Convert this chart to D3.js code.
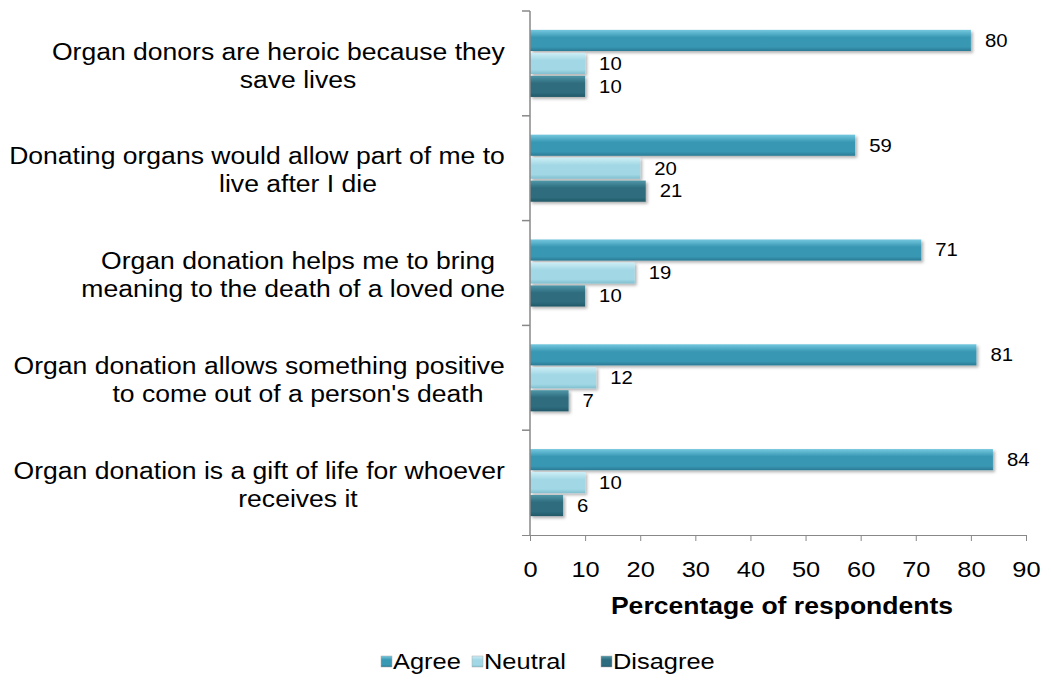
<!DOCTYPE html>
<html><head><meta charset="utf-8">
<script src="https://cdn.jsdelivr.net/npm/d3@7"></script>
<style>body{margin:0;background:#fff}text{font-family:"Liberation Sans",Arial,sans-serif}</style>
</head><body><svg id="c" width="1051" height="688"></svg>
<script>
const categories = [
  ["Organ donors are heroic because they", "save lives"],
  ["Donating organs would allow part of me to", "live after I die"],
  ["Organ donation helps me to bring", "meaning to the death of a loved one"],
  ["Organ donation allows something positive", "to come out of a person's death"],
  ["Organ donation is a gift of life for whoever", "receives it"]
];
const seriesNames = ["Agree", "Neutral", "Disagree"];
const agree    = [80, 59, 71, 81, 84];
const neutral  = [10, 20, 19, 12, 10];
const disagree = [10, 21, 10, 7, 6];
const xTicks = [0,10,20,30,40,50,60,70,80,90];
const axisTitle = "Percentage of respondents";

const series = [agree, neutral, disagree];
const colors = [
  {top:"#74c8de", mid:"#3998b4", bot:"#2a7a94"},
  {top:"#cdeef6", mid:"#a2d8e5", bot:"#80bfcf"},
  {top:"#4f97a8", mid:"#2d6c7e", bot:"#225867"}
];
const SX = 1.13; // slight horizontal text stretch seen in the reference

const svg = d3.select("#c");
const L = 530, T = 11, B = 535, R = 1026;
const x = d3.scaleLinear().domain([0, 90]).range([L, R]);
const y = d3.scaleBand().domain(d3.range(categories.length)).range([T, B]).paddingInner(0.36).paddingOuter(0.18);
const yi = d3.scaleBand().domain(d3.range(3)).range([0, y.bandwidth()]).paddingInner(0.08);
const band = d3.scaleBand().domain(d3.range(categories.length)).range([T, B]);

function place(t, px, py) { t.attr("transform", `translate(${px},${py}) scale(${SX},1)`); return t; }

const defs = svg.append("defs");
colors.forEach((c, i) => {
  const g = defs.append("linearGradient").attr("id", "g" + i).attr("x1", 0).attr("y1", 0).attr("x2", 0).attr("y2", 1);
  g.append("stop").attr("offset", "0%").attr("stop-color", c.top);
  g.append("stop").attr("offset", "35%").attr("stop-color", c.mid);
  g.append("stop").attr("offset", "80%").attr("stop-color", c.mid);
  g.append("stop").attr("offset", "100%").attr("stop-color", c.bot);
});
const f = defs.append("filter").attr("id", "sh").attr("x", "-5%").attr("y", "-20%").attr("width", "115%").attr("height", "160%");
f.append("feDropShadow").attr("dx", 2).attr("dy", 2).attr("stdDeviation", 1.5).attr("flood-color", "#000").attr("flood-opacity", 0.3);

// bars
series.forEach((vals, si) => {
  const g = svg.append("g");
  g.selectAll("rect").data(vals).join("rect")
    .attr("x", x(0)).attr("y", (d, i) => y(i) + yi(si))
    .attr("width", d => x(d) - x(0)).attr("height", yi.bandwidth())
    .attr("fill", `url(#g${si})`).attr("filter", "url(#sh)");
  g.selectAll("text").data(vals).join("text")
    .attr("dy", "0.35em").attr("font-size", 18).attr("fill", "#000").text(d => d)
    .each(function(d, i) { place(d3.select(this), x(d) + 14, y(i) + yi(si) + yi.bandwidth() / 2); });
});

// axes
const xAxis = d3.axisBottom(x).tickValues(xTicks).tickSize(6).tickPadding(20);
const gx = svg.append("g").attr("transform", `translate(0,${B})`).call(xAxis);
gx.select(".domain").attr("stroke", "#888").attr("d", `M${L - 8},0.5H${R}`);
gx.selectAll(".tick line").attr("stroke", "#888");
gx.selectAll(".tick text").attr("font-size", 22.5).attr("fill", "#000")
  .attr("font-family", "Liberation Sans, Arial, sans-serif").attr("transform", `scale(${SX},1)`);

const ga = svg.append("g");
ga.append("line").attr("x1", L).attr("x2", L).attr("y1", T).attr("y2", B).attr("stroke", "#888").attr("stroke-width", 1.5);
ga.selectAll("line.t").data(d3.range(categories.length)).join("line").attr("class", "t")
  .attr("x1", L - 8).attr("x2", L).attr("y1", i => band(i)).attr("y2", i => band(i)).attr("stroke", "#888").attr("stroke-width", 1.5);

// category labels
const gl = svg.append("g");
categories.forEach((lines, i) => {
  const cy = band(i) + band.bandwidth() / 2 + 2;
  const lh = 28;
  lines.forEach((ln, j) => {
    const t = gl.append("text").attr("font-size", 23.5).attr("fill", "#000")
      .attr("dy", "0.35em").attr("text-anchor", "middle").text(ln);
    const w = t.node().getComputedTextLength() * SX;
    place(t, Math.min(298, 505 - w / 2), cy + (j - (lines.length - 1) / 2) * lh);
  });
});

// axis title
place(svg.append("text").attr("text-anchor", "middle").attr("dy", "0.35em")
  .attr("font-size", 23.5).attr("font-weight", "bold").attr("fill", "#000").text(axisTitle), 782, 606);

// legend
const lg = svg.append("g");
const legX = [381, 472, 601];
seriesNames.forEach((n, i) => {
  lg.append("rect").attr("x", legX[i]).attr("y", 656).attr("width", 11).attr("height", 11).attr("fill", `url(#g${i})`).attr("stroke", "#aaa").attr("stroke-width", 0.5);
  place(lg.append("text").attr("dy", "0.35em").attr("font-size", 22.5).attr("fill", "#000").text(n), legX[i] + 12, 661);
});
</script></body></html>
